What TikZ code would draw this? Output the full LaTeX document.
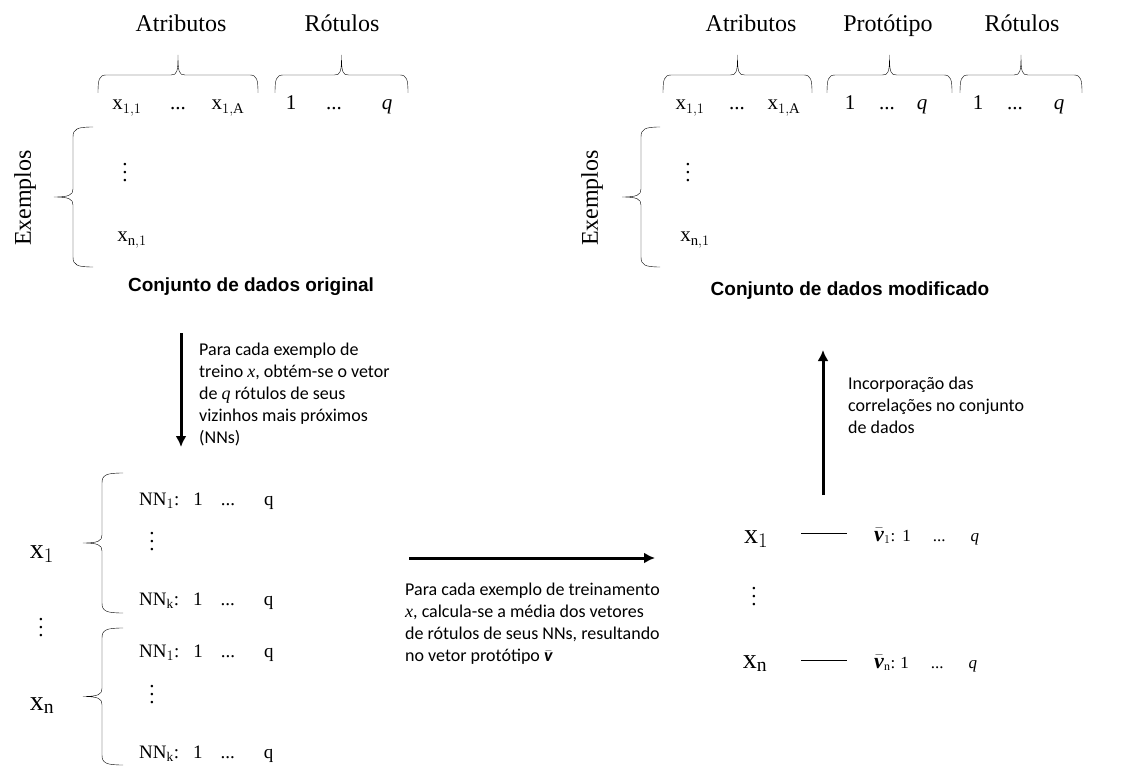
\documentclass[tikz,border=0pt]{standalone}
\usepackage{amsmath}
\usepackage{fontspec}
\usepackage{tikz}
\usetikzlibrary{arrows.meta, calc}
\setmainfont{Liberation Serif}
\newfontfamily\calibri{Carlito}
\newfontfamily\titlefont{Liberation Sans}

% curly brace opening downwards: left x, right x, bottom y
\newcommand{\hbrace}[3]{%
  \pgfmathsetmacro{\bmid}{(#1+#2)/2}
  \draw (#1,#3) .. controls (#1,#3-13) and (#1+1,#3-18) .. (#1+8,#3-18)
    -- (\bmid-7,#3-18) .. controls (\bmid-1,#3-18) and (\bmid,#3-21) .. (\bmid,#3-38)
    .. controls (\bmid,#3-21) and (\bmid+1,#3-18) .. (\bmid+7,#3-18)
    -- (#2-8,#3-18) .. controls (#2-1,#3-18) and (#2,#3-13) .. (#2,#3);}
% curly brace opening to the right: x, top y, bottom y, arm length
\newcommand{\vbrace}[4]{%
  \pgfmathsetmacro{\bmid}{(#2+#3)/2}
  \draw (#1+#4,#2) .. controls (#1+4,#2) and (#1,#2+2) .. (#1,#2+10)
    -- (#1,\bmid-8) .. controls (#1,\bmid-2) and (#1-4,\bmid) .. (#1-19,\bmid)
    .. controls (#1-4,\bmid) and (#1,\bmid+2) .. (#1,\bmid+8)
    -- (#1,#3-10) .. controls (#1,#3-2) and (#1+4,#3) .. (#1+#4,#3);}
% vertical dots that grow with the font
\newcommand{\vdts}{\vbox{\baselineskip=8pt\lineskiplimit=-20pt\hbox{.}\hbox{.}\hbox{.}}}
% prototype vector symbol
\newcommand{\vproto}{\bar{\text{\textbf{\textit{v}}}}}

\begin{document}
\begin{tikzpicture}[x=1pt, y=-1pt,
  head/.style={font=\fontsize{24}{28}\selectfont, anchor=base, inner sep=0},
  cell/.style={font=\fontsize{21}{24}\selectfont, anchor=base, inner sep=0},
  nnrow/.style={font=\fontsize{19}{22}\selectfont, anchor=base west, inner sep=0},
  vrow/.style={font=\fontsize{17}{20}\selectfont, anchor=base west, inner sep=0},
  bigx/.style={font=\fontsize{28}{30}\selectfont, anchor=base, inner sep=0},
  dots/.style={font=\fontsize{21}{23}\selectfont, inner sep=0},
  title/.style={font=\titlefont\bfseries\fontsize{19}{22}\selectfont, anchor=base, inner sep=0},
  note/.style={font=\calibri\fontsize{18}{22}\selectfont, align=left, anchor=north west, inner sep=0},
  flow/.style={line width=3pt, -{Latex[length=11pt, width=11pt]}}]
\useasboundingbox (0,0) rectangle (1124,767);

% Original data set
\node[head] (atrL) at (181,32) {Atributos};
\node[head] (rotL) at (342,32) {Rótulos};
\hbrace{98}{258}{93}
\hbrace{275}{408}{93}
\node[cell] (x11L) at (127,110) {$\mathrm{x}_{1,1}$};
\node[cell] (d1L) at (178,110) {...};
\node[cell] (x1AL) at (228,110) {$\mathrm{x}_{1,\mathrm{A}}$};
\node[cell] (r1L) at (291,110) {1};
\node[cell] (rdL) at (334,110) {...};
\node[cell] (rqL) at (387,110) {\textit{q}};
\vbrace{73}{127}{267}{20}
\node[head, rotate=90, anchor=center] (exL) at (25,198) {Exemplos};
\node[dots] (vdL) at (125,173) {\vdts};
\node[cell] (xn1L) at (132,242) {$\mathrm{x}_{\mathrm{n},1}$};
\node[title] (tOrig) at (251,291) {Conjunto de dados original};

% Step 1: nearest neighbours
\coordinate (dnA) at (181,333);
\coordinate (dnB) at (181,447);
\draw[flow] (dnA) -- (dnB);
\node[note] (n1) at (199,343) {Para cada exemplo de\\treino $\mathit{x}$, obtém-se o vetor\\de $\mathit{q}$ rótulos de seus\\vizinhos mais próximos\\(NNs)};

% Neighbour label vectors
\node[bigx] (xa) at (42,558) {$\mathrm{x}_1$};
\vbrace{102}{473}{613}{21}
\node[nnrow] (na1) at (139,505) {NN$_1$:\hspace{14pt}1\hspace{18pt}...\hspace{29pt}q};
\node[dots] (vda) at (152,542) {\vdts};
\node[nnrow] (nak) at (139,605) {NN$_\mathrm{k}$:\hspace{14pt}1\hspace{18pt}...\hspace{29pt}q};
\node[dots] (vdm) at (41,628) {\vdts};
\node[bigx] (xb) at (42,710) {$\mathrm{x}_\mathrm{n}$};
\vbrace{102}{628}{765}{21}
\node[nnrow] (nb1) at (139,657) {NN$_1$:\hspace{14pt}1\hspace{18pt}...\hspace{29pt}q};
\node[dots] (vdb) at (152,695) {\vdts};
\node[nnrow] (nbk) at (139,758) {NN$_\mathrm{k}$:\hspace{14pt}1\hspace{18pt}...\hspace{29pt}q};

% Step 2: prototype vectors
\coordinate (rtA) at (409,558);
\coordinate (rtB) at (655,558);
\draw[flow] (rtA) -- (rtB);
\node[note] (n2) at (405,583) {Para cada exemplo de treinamento\\$\mathit{x}$, calcula-se a média dos vetores\\de rótulos de seus NNs, resultando\\no vetor protótipo $\vproto$};

\node[bigx] (xr1) at (756,543) {$\mathrm{x}_1$};
\coordinate (l1a) at (801,533);
\coordinate (l1b) at (847,533);
\draw (l1a) -- (l1b);
\node[vrow] (v1) at (874,541) {{\fontsize{22}{24}\selectfont$\vproto$}$_{1}$:\hspace{7pt}1\hspace{22pt}...\hspace{25pt}\textit{q}};
\node[dots] (vdr) at (754,597) {\vdts};
\node[bigx] (xrn) at (755,668) {$\mathrm{x}_\mathrm{n}$};
\coordinate (lna) at (801,660);
\coordinate (lnb) at (847,660);
\draw (lna) -- (lnb);
\node[vrow] (vn) at (874,668) {{\fontsize{22}{24}\selectfont$\vproto$}$_{\mathrm{n}}$:\hspace{5pt}1\hspace{22pt}...\hspace{25pt}\textit{q}};

% Step 3: back into the data set
\coordinate (upA) at (823,495);
\coordinate (upB) at (823,350);
\draw[flow] (upA) -- (upB);
\node[note] (n3) at (848,377) {Incorporação das\\correlações no conjunto\\de dados};

% Modified data set
\node[head] (atrR) at (751,32) {Atributos};
\node[head] (proR) at (888,32) {Protótipo};
\node[head] (rotR) at (1022,32) {Rótulos};
\hbrace{663}{812}{93}
\hbrace{827}{952}{93}
\hbrace{960}{1082}{93}
\node[cell] (x11R) at (690,110) {$\mathrm{x}_{1,1}$};
\node[cell] (d1R) at (737,110) {...};
\node[cell] (x1AR) at (784,110) {$\mathrm{x}_{1,\mathrm{A}}$};
\node[cell] (p1R) at (850,110) {1};
\node[cell] (pdR) at (887,110) {...};
\node[cell] (pqR) at (922,110) {\textit{q}};
\node[cell] (r1R) at (978,110) {1};
\node[cell] (rdR) at (1015,110) {...};
\node[cell] (rqR) at (1059,110) {\textit{q}};
\vbrace{641}{127}{267}{19}
\node[head, rotate=90, anchor=center] (exR) at (592,198) {Exemplos};
\node[dots] (vdR) at (688,173) {\vdts};
\node[cell] (xn1R) at (695,242) {$\mathrm{x}_{\mathrm{n},1}$};
\node[title] (tMod) at (850,295) {Conjunto de dados modificado};
\end{tikzpicture}
\end{document}
